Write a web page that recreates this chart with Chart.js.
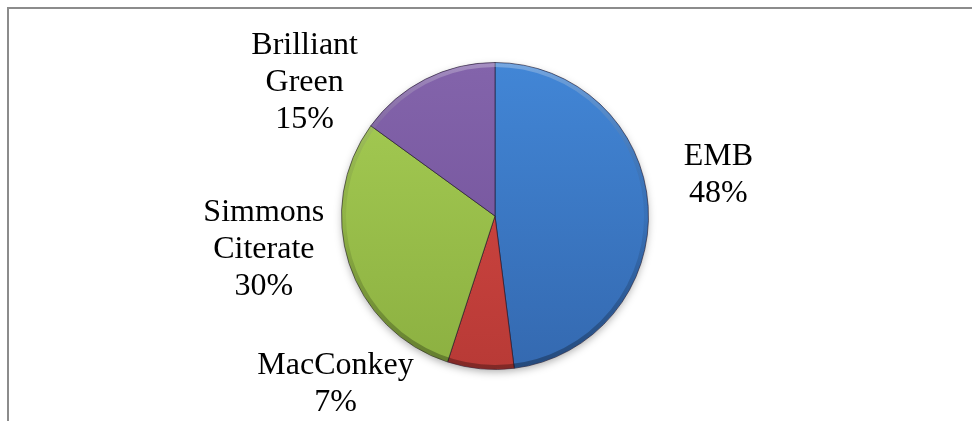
<!DOCTYPE html>
<html>
<head>
<meta charset="utf-8">
<script src="https://cdn.jsdelivr.net/npm/chart.js@4.4.1/dist/chart.umd.min.js"></script>
<style>
html, body { margin: 0; padding: 0; background: #fff; }
#wrap { position: relative; width: 972px; height: 421px; }
</style>
</head>
<body>
<div id="wrap"><canvas id="myChart"></canvas></div>
<script>
// culture media share
var media = ["EMB", "MacConkey", "Simmons Citerate", "Brilliant Green"];
var percent = [48, 7, 30, 15];
var labelLines = [["EMB"], ["MacConkey"], ["Simmons", "Citerate"], ["Brilliant", "Green"]];

// slice colours: top / bottom of the pie
var sliceColors = [
	["#4286d6", "#3469b0"],
	["#d94a45", "#b83a36"],
	["#a6cd54", "#8cb041"],
	["#8364ab", "#704f97"]
];

// label block centres, in pie radii from the centre
var labelPos = [[1.455, -0.266], [-1.039, 1.097], [-1.506, 0.221], [-1.240, -0.870]];

function sliceFill(ctx) {
	var chart = ctx.chart;
	var area = chart.chartArea;
	var c = sliceColors[ctx.dataIndex];
	if (!area) return c[0];
	var g = chart.ctx.createLinearGradient(0, area.top, 0, area.bottom);
	g.addColorStop(0, c[0]);
	g.addColorStop(1, c[1]);
	return g;
}

var framePlugin = {
	id: "frame",
	beforeDraw: function(chart) {
		var ctx = chart.ctx;
		ctx.save();
		ctx.strokeStyle = "#8c8c8c";
		ctx.lineWidth = 2;
		ctx.beginPath();
		ctx.moveTo(8, chart.height);
		ctx.lineTo(8, 8);
		ctx.lineTo(chart.width, 8);
		ctx.stroke();
		ctx.restore();
	},
	beforeDatasetsDraw: function(chart) {
		// soft drop shadow under the pie
		var a = chart.getDatasetMeta(0).data[0];
		var ctx = chart.ctx;
		ctx.save();
		ctx.shadowColor = "rgba(0,0,0,0.35)";
		ctx.shadowBlur = 8;
		ctx.shadowOffsetY = 3;
		ctx.fillStyle = "#888";
		ctx.beginPath();
		ctx.arc(a.x, a.y, a.outerRadius - 1, 0, Math.PI * 2);
		ctx.fill();
		ctx.restore();
	},
	afterDatasetsDraw: function(chart) {
		var meta = chart.getDatasetMeta(0);
		var ctx = chart.ctx;
		var a0 = meta.data[0];

		// bevel rim: light on top, dark underneath
		ctx.save();
		var rim = ctx.createLinearGradient(0, a0.y - a0.outerRadius, 0, a0.y + a0.outerRadius);
		rim.addColorStop(0, "rgba(255,255,255,0.28)");
		rim.addColorStop(0.5, "rgba(0,0,0,0.05)");
		rim.addColorStop(1, "rgba(0,0,0,0.3)");
		ctx.strokeStyle = rim;
		ctx.lineWidth = 4;
		ctx.beginPath();
		ctx.arc(a0.x, a0.y, a0.outerRadius - 2.5, 0, Math.PI * 2);
		ctx.stroke();
		ctx.restore();

		ctx.save();
		ctx.font = "32px 'Liberation Serif', 'Times New Roman', serif";
		ctx.fillStyle = "#000";
		ctx.textAlign = "center";
		ctx.textBaseline = "middle";
		var lh = 37;
		meta.data.forEach(function(arc, i) {
			var r = arc.outerRadius;
			var x = arc.x + labelPos[i][0] * r;
			var y = arc.y + labelPos[i][1] * r;
			var lines = labelLines[i].concat([percent[i] + "%"]);
			var top = y - (lines.length - 1) * lh / 2;
			lines.forEach(function(t, k) {
				ctx.fillText(t, x, top + k * lh);
			});
		});
		ctx.restore();
	}
};

var chart = new Chart(document.getElementById("myChart").getContext("2d"), {
	type: "pie",
	data: {
		labels: media,
		datasets: [{
			data: percent,
			backgroundColor: sliceFill,
			borderColor: "rgba(30,20,40,0.6)",
			borderWidth: 1
		}]
	},
	options: {
		responsive: true,
		maintainAspectRatio: false,
		animation: false,
		layout: { padding: { top: 62, bottom: 51, left: 341, right: 323 } },
		plugins: {
			legend: { display: false },
			tooltip: { enabled: false }
		}
	},
	plugins: [framePlugin]
});
</script>
</body>
</html>
